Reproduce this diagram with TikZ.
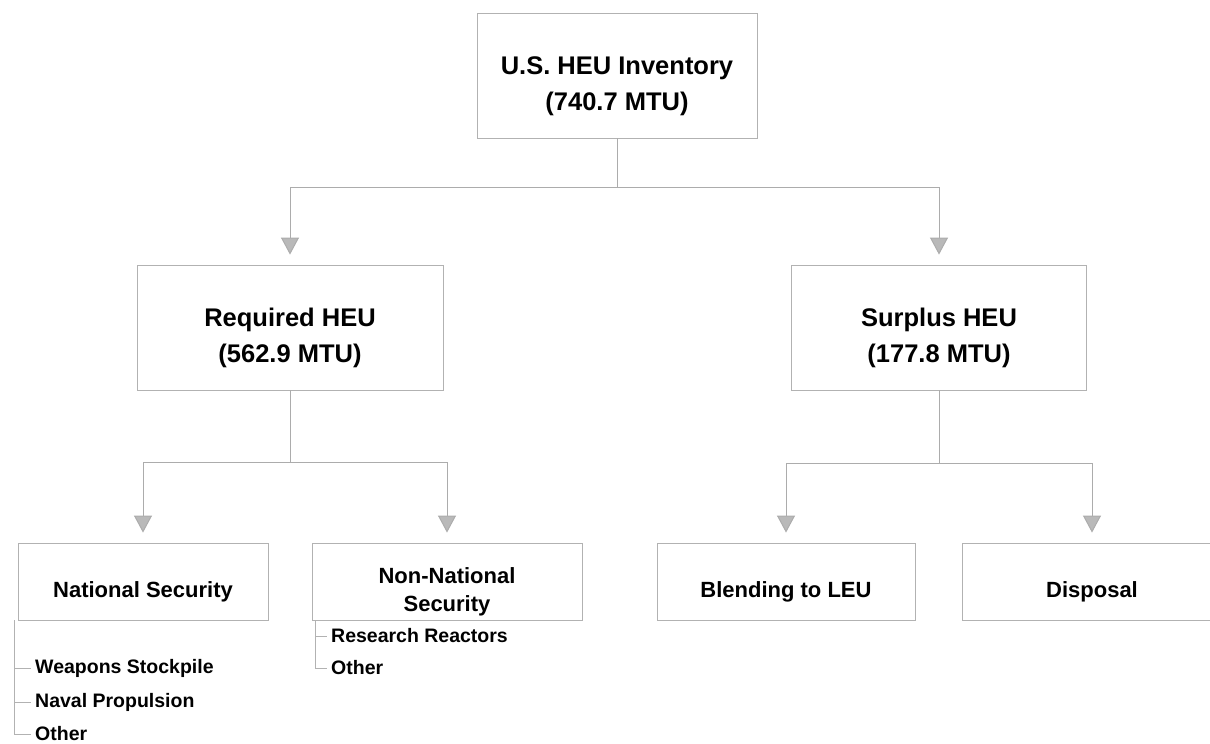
\documentclass[tikz,border=0pt]{standalone}
\usepackage{fontspec}
\setmainfont{Liberation Sans}
\usetikzlibrary{arrows.meta}

% box text sits a little below the middle of its box
\newcommand{\boxtext}[1]{\raisebox{-10pt}[\height][\depth]{\begin{tabular}{@{}c@{}}#1\end{tabular}}}

\tikzset{
  box/.style={draw=gray!60, line width=0.8pt, fill=white, align=center, inner sep=0pt},
  bigbox/.style={box, minimum height=125pt, font=\bfseries\fontsize{25.5}{36}\selectfont},
  smallbox/.style={box, minimum height=77pt, font=\bfseries\fontsize{22}{28}\selectfont},
  link/.style={draw=gray!65, line width=1pt},
  arrow/.style={link, -{Triangle[width=18pt,length=17pt,fill=gray!55]}, shorten >=10pt},
  branch/.style={draw=gray!60, line width=0.8pt},
  item/.style={anchor=west, inner sep=0pt, font=\bfseries\fontsize{19.5}{23}\selectfont}
}

\begin{document}
\begin{tikzpicture}[x=1pt, y=-1pt]
    \clip (0,0) rectangle (1210,744);
    \useasboundingbox (0,0) rectangle (1210,744);

    % Draw nodes
    \node[bigbox, minimum width=280pt] (inv) at (617,75.5) {\boxtext{U.S. HEU Inventory\\(740.7 MTU)}};
    \node[bigbox, minimum width=306pt] (req) at (290,327.5) {\boxtext{Required HEU\\(562.9 MTU)}};
    \node[bigbox, minimum width=295pt] (sur) at (939,327.5) {\boxtext{Surplus HEU\\(177.8 MTU)}};
    \node[smallbox, minimum width=250pt] (nat) at (143,581.5) {\boxtext{National Security}};
    \node[smallbox, minimum width=270pt] (non) at (447,581.5) {\boxtext{Non-National\\Security}};
    \node[smallbox, minimum width=258pt] (ble) at (786,581.5) {\boxtext{Blending to LEU}};
    \node[smallbox, minimum width=260pt] (dis) at (1092,581.5) {\boxtext{Disposal}};

    % Split points
    \coordinate (invsplit) at (617,187);
    \coordinate (reqsplit) at (290,462);
    \coordinate (sursplit) at (939,463);

    % Draw connections
    \draw[link] (inv.south) -- (invsplit);
    \draw[arrow] (invsplit) -| (req.north);
    \draw[arrow] (invsplit) -| (sur.north);
    \draw[link] (req.south) -- (reqsplit);
    \draw[arrow] (reqsplit) -| (nat.north);
    \draw[arrow] (reqsplit) -| (non.north);
    \draw[link] (sur.south) -- (sursplit);
    \draw[arrow] (sursplit) -| (ble.north);
    \draw[arrow] (sursplit) -| (dis.north);

    % Lists
    \node[item] (weap) at (35,668) {Weapons Stockpile};
    \node[item] (nav) at (35,702) {Naval Propulsion};
    \node[item] (natoth) at (35,734) {Other};
    \node[item] (res) at (331,636) {Research Reactors};
    \node[item] (nonoth) at (331,668) {Other};

    \draw[branch, shorten >=4pt] (nat.south west) ++(-3,0) |- (natoth.west);
    \draw[branch, shorten >=4pt] ([xshift=-3pt]nat.south west |- weap.west) -- (weap.west);
    \draw[branch, shorten >=4pt] ([xshift=-3pt]nat.south west |- nav.west) -- (nav.west);
    \draw[branch, shorten >=4pt] ([xshift=4pt]non.south west) |- (nonoth.west);
    \draw[branch, shorten >=4pt] ([xshift=4pt]non.south west |- res.west) -- (res.west);
\end{tikzpicture}
\end{document}
